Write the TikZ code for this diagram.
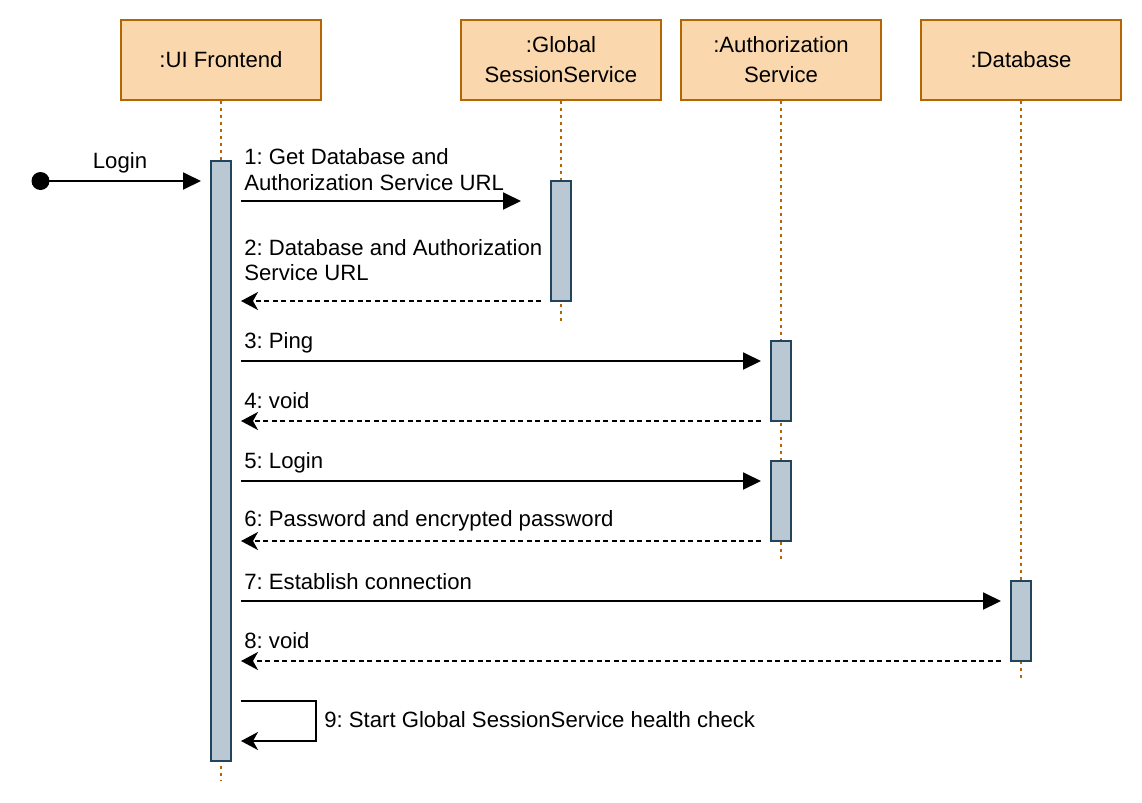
\documentclass[tikz,border=0pt]{standalone}
\usepackage{fontspec}
\setmainfont{Liberation Sans}
\usetikzlibrary{arrows.meta}
\frenchspacing

\definecolor{headfill}{HTML}{FAD7AC}
\definecolor{headline}{HTML}{B46504}
\definecolor{barfill}{HTML}{BAC8D3}
\definecolor{barline}{HTML}{23445D}

\tikzset{
  head/.style={draw=headline, fill=headfill, line width=1.1pt, minimum width=4cm, minimum height=1.6cm, align=center, inner sep=0pt, font=\fontsize{12.6}{17}\selectfont},
  life/.style={headline, line width=1.1pt, dash pattern=on 0.06cm off 0.08cm},
  actbar/.style={draw=barline, fill=barfill, line width=1.1pt, minimum width=0.4cm, inner sep=0pt},
  call/.style={line width=1.1pt, -{Triangle[length=0.36cm, width=0.34cm]}},
  reply/.style={line width=1.1pt, dash pattern=on 0.1cm off 0.07cm, -{Stealth[length=0.34cm, width=0.36cm, inset=0.1cm]}},
  msglbl/.style={anchor=west, align=left, inner sep=0pt}
}

\begin{document}
\begin{tikzpicture}[x=0.02cm, y=-0.02cm, font=\fontsize{12.6}{14.6}\selectfont]
        \useasboundingbox (0,0) rectangle (1142,802);
        % heads and lifelines
        \node[head] (ui) at (221,60) {:UI Frontend};
        \node[head] (gs) at (561,60) {:Global\\SessionService};
        \node[head] (auth) at (781,60) {:Authorization\\Service};
        \node[head] (db) at (1021,60) {:Database};
        \coordinate (uiend) at (221,780);
        \coordinate (gsend) at (561,321);
        \coordinate (authend) at (781,561);
        \coordinate (dbend) at (1021,681);
        \draw[life] (ui.south) -- (uiend);
        \draw[life] (gs.south) -- (gsend);
        \draw[life] (auth.south) -- (authend);
        \draw[life] (db.south) -- (dbend);
        % activations
        \node[actbar, minimum height=12cm] (uibar) at (221,461) {};
        \node[actbar, minimum height=2.4cm] (gsbar) at (561,241) {};
        \node[actbar, minimum height=1.6cm] (authbarA) at (781,381) {};
        \node[actbar, minimum height=1.6cm] (authbarB) at (781,501) {};
        \node[actbar, minimum height=1.6cm] (dbbar) at (1021,621) {};
        % found message
        \fill (40.5,181) circle (0.18cm) coordinate (start);
        \coordinate (loginend) at (201,181);
        \draw[call] (start) -- (loginend);
        \node (loginlbl) at (120,163) {Login};
        % messages
        \coordinate (m1a) at (241,201); \coordinate (m1b) at (521,201);
        \coordinate (m2a) at (541,301); \coordinate (m2b) at (241,301);
        \coordinate (m3a) at (241,361); \coordinate (m3b) at (761,361);
        \coordinate (m4a) at (761,421); \coordinate (m4b) at (241,421);
        \coordinate (m5a) at (241,481); \coordinate (m5b) at (761,481);
        \coordinate (m6a) at (761,541); \coordinate (m6b) at (241,541);
        \coordinate (m7a) at (241,601); \coordinate (m7b) at (1001,601);
        \coordinate (m8a) at (1001,661); \coordinate (m8b) at (241,661);
        \draw[call] (m1a) -- (m1b);
        \draw[reply] (m2a) -- (m2b);
        \draw[call] (m3a) -- (m3b);
        \draw[reply] (m4a) -- (m4b);
        \draw[call] (m5a) -- (m5b);
        \draw[reply] (m6a) -- (m6b);
        \draw[call] (m7a) -- (m7b);
        \draw[reply] (m8a) -- (m8b);
        \node[msglbl] (l1) at (244,169.5) {1: Get Database and\\Authorization Service URL};
        \node[msglbl] (l2) at (244,260) {2: Database and Authorization\\Service URL};
        \node[msglbl] (l3) at (244,343) {3: Ping};
        \node[msglbl] (l4) at (244,401) {4: void};
        \node[msglbl] (l5) at (244,463) {5: Login};
        \node[msglbl] (l6) at (244,521) {6: Password and encrypted password};
        \node[msglbl] (l7) at (244,582) {7: Establish connection};
        \node[msglbl] (l8) at (244,641) {8: void};
        % self call
        \coordinate (m9a) at (241,701); \coordinate (m9b) at (241,741);
        \draw[line width=1.1pt, -{Stealth[length=0.34cm, width=0.36cm, inset=0.1cm]}] (m9a) -- (316,701) |- (m9b);
        \node[msglbl] (l9) at (324,720) {9: Start Global SessionService health check};
      \end{tikzpicture}
\end{document}
